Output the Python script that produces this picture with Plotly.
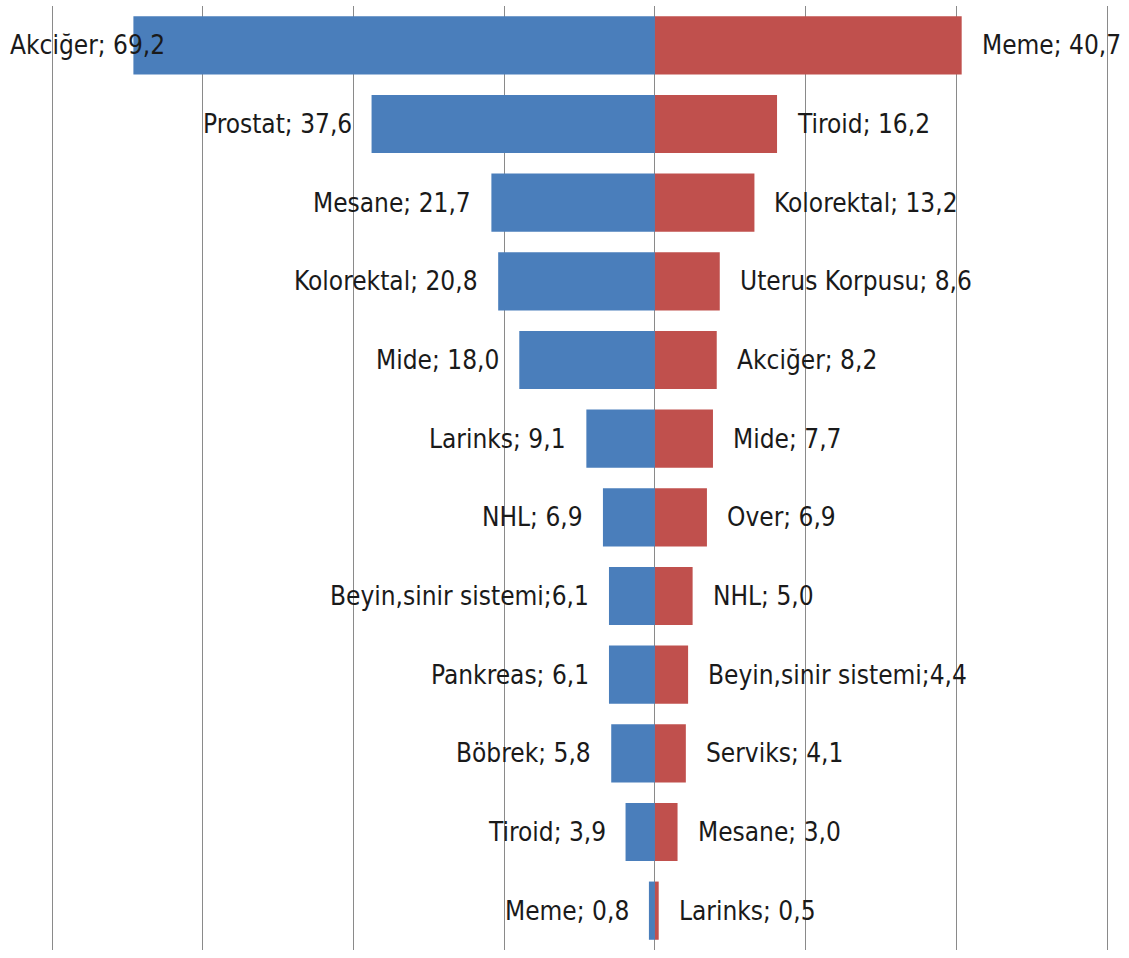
import plotly.graph_objects as go

# Erkek (sol) ve kadın (sağ) kanser insidansı, sıralı
male_sites = ["Akciğer", "Prostat", "Mesane", "Kolorektal", "Mide", "Larinks",
              "NHL", "Beyin,sinir sistemi", "Pankreas", "Böbrek", "Tiroid", "Meme"]
male_values = [69.2, 37.6, 21.7, 20.8, 18.0, 9.1, 6.9, 6.1, 6.1, 5.8, 3.9, 0.8]

female_sites = ["Meme", "Tiroid", "Kolorektal", "Uterus Korpusu", "Akciğer", "Mide",
                "Over", "NHL", "Beyin,sinir sistemi", "Serviks", "Mesane", "Larinks"]
female_values = [40.7, 16.2, 13.2, 8.6, 8.2, 7.7, 6.9, 5.0, 4.4, 4.1, 3.0, 0.5]

BLUE = "#4A7EBB"
RED = "#C0504D"
FONT = "DejaVu Sans Condensed, Liberation Sans Narrow, Arial Narrow, sans-serif"
X_MIN, X_MAX = -86.9, 62.9

rows = list(range(len(male_values)))


def fmt(v):
    return f"{v:.1f}".replace(".", ",")


def sep(name):
    # "Beyin,sinir sistemi" etiketlerinde noktalı virgülden sonra boşluk yok
    return ";" if "," in name else "; "


fig = go.Figure()
fig.add_trace(go.Bar(
    y=rows, x=[-v for v in male_values], orientation="h",
    width=0.74, marker=dict(color=BLUE, line=dict(width=0)),
    hoverinfo="skip", showlegend=False,
))
fig.add_trace(go.Bar(
    y=rows, x=female_values, orientation="h",
    width=0.74, marker=dict(color=RED, line=dict(width=0)),
    hoverinfo="skip", showlegend=False,
))

annotations = []
for r, name, v in zip(rows, male_sites, male_values):
    text = f"{name}{sep(name)}{fmt(v)}"
    if -v - 20 < X_MIN + 12:
        # çok uzun çubukta etiket grafiğin sol kenarına yaslanır
        annotations.append(dict(x=X_MIN, y=r, xref="x", yref="y", text=text,
                                xanchor="left", xshift=8, showarrow=False))
    else:
        annotations.append(dict(x=-v, y=r, xref="x", yref="y", text=text,
                                xanchor="right", xshift=-18, showarrow=False))
for r, name, v in zip(rows, female_sites, female_values):
    text = f"{name}{sep(name)}{fmt(v)}"
    annotations.append(dict(x=v, y=r, xref="x", yref="y", text=text,
                            xanchor="left", xshift=18, showarrow=False))

fig.update_layout(
    width=1129, height=958,
    margin=dict(l=0, r=0, t=6, b=8),
    paper_bgcolor="white", plot_bgcolor="white",
    barmode="overlay", bargap=0.26,
    font=dict(family=FONT, size=26, color="#1a1a1a"),
    annotations=annotations,
    xaxis=dict(range=[X_MIN, X_MAX], tick0=0, dtick=20,
               showgrid=True, gridcolor="#8a8a8a", gridwidth=1.4,
               zeroline=True, zerolinecolor="#8a8a8a", zerolinewidth=1.4,
               showticklabels=False, ticks="", showline=False, fixedrange=True),
    yaxis=dict(range=[len(rows) - 0.5, -0.5], showgrid=False, zeroline=False,
               showticklabels=False, ticks="", showline=False, fixedrange=True),
)

fig.write_html("out.html")
